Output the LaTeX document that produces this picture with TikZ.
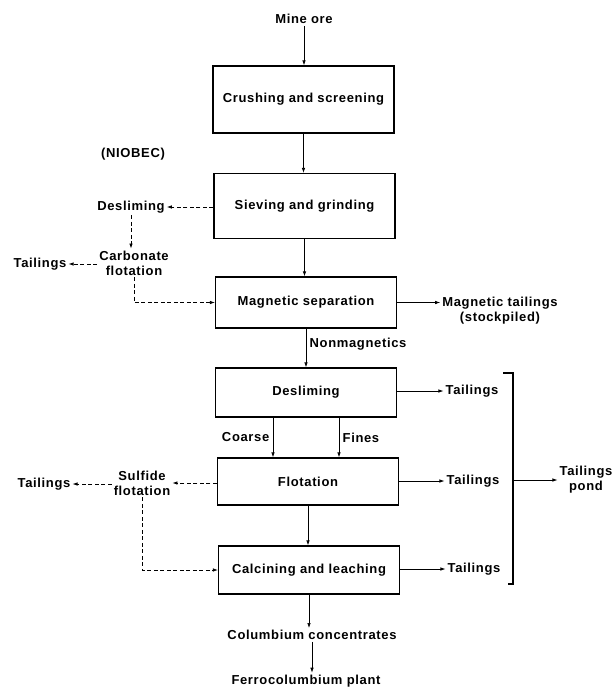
\documentclass[tikz,border=0pt]{standalone}
\usepackage{fontspec}
\setmainfont{Liberation Sans}[LetterSpace=5]
\usetikzlibrary{arrows.meta}
\begin{document}
\begin{tikzpicture}[x=1pt,y=-1pt,font=\bfseries\fontsize{13}{15}\selectfont]
\tikzstyle{process}=[rectangle,draw,line width=1.2pt,minimum width=181pt,inner sep=0pt]
\tikzstyle{stream}=[inner sep=2pt,align=center]
\tikzstyle{flow}=[-{Latex[length=5pt,width=3.5pt]},line width=0.7pt]
\tikzstyle{side}=[flow,dash pattern=on 4pt off 2.5pt]

\useasboundingbox (0,0) rectangle (616,689);

\node[stream](Mine) at (304,19){Mine ore};
\node[process,minimum height=67pt](Crushing) at (303.5,99.5){Crushing and screening};
\node[stream](Niobec) at (133,154){(NIOBEC)};
\node[process,minimum height=65pt](Sieving) at (304.5,206){Sieving and grinding};
\node[stream](Desl) at (131,207){Desliming};
\node[stream](Carbonate) at (134,263){Carbonate\\flotation};
\node[stream](TailA) at (40,264){Tailings};
\node[process,minimum height=51pt](Magnetic) at (306,302.5){Magnetic separation};
\node[stream](MagTail) at (500,311){Magnetic tailings\\(stockpiled)};
\node[process,minimum height=49pt](Desliming) at (306,392.5){Desliming};
\node[stream](TailD) at (472,391){Tailings};
\node[process,minimum height=47pt](Flotation) at (308,481.5){Flotation};
\node[stream](Sulfide) at (142,483){Sulfide\\flotation};
\node[stream](TailB) at (44,484){Tailings};
\node[stream](TailF) at (473,481){Tailings};
\node[process,minimum height=48pt](Calcining) at (309,570){Calcining and leaching};
\node[stream](TailC) at (474,569){Tailings};
\node[stream](Pond) at (586,480){Tailings\\pond};
\node[stream](Columbium) at (312,635){Columbium concentrates};
\node[stream](Ferro) at (306,681){Ferrocolumbium plant};
\coordinate (BrTop) at (513,373);
\coordinate (BrBot) at (513,584);

\draw[flow] (Mine) -- (Mine.south |- Crushing.north);
\draw[flow] (Crushing) -- (Crushing.south |- Sieving.north);
\draw[side] (Sieving.west |- Desl) -- (Desl);
\draw[side] (Desl) -- (Desl.south |- Carbonate.north);
\draw[side] (Carbonate.west |- TailA) -- (TailA);
\draw[side] (Carbonate) |- (Magnetic.west);
\draw[flow] (Sieving) -- (Sieving.south |- Magnetic.north);
\draw[flow] (Magnetic.east) -- (Magnetic.east -| MagTail.west);
\draw[flow] (Magnetic) -- (Magnetic.south |- Desliming.north) node[pos=0.4,right]{Nonmagnetics};
\draw[flow] (Desliming.east |- TailD) -- (TailD);
\draw[flow] ([xshift=-33pt]Desliming.south) -- ([xshift=-33pt]Desliming.south |- Flotation.north) node[midway,left]{Coarse};
\draw[flow] ([xshift=33pt]Desliming.south) -- ([xshift=33pt]Desliming.south |- Flotation.north) node[midway,right]{Fines};
\draw[side] (Flotation.west |- Sulfide) -- (Sulfide);
\draw[side] (Sulfide.west |- TailB) -- (TailB);
\draw[side] (Sulfide) |- (Calcining.west);
\draw[flow] (Flotation) -- (Flotation.south |- Calcining.north);
\draw[flow] (Flotation.east |- TailF) -- (TailF);
\draw[flow] (Calcining.east |- TailC) -- (TailC);
\draw[line width=1.2pt] ([xshift=-10pt]BrTop) -- (BrTop) -- (BrBot) -- ([xshift=-5pt]BrBot);
\draw[flow] (BrTop |- Pond) -- (Pond);
\draw[flow] (Calcining) -- (Calcining.south |- Columbium.north);
\draw[flow] (Columbium) -- (Columbium.south |- Ferro.north);

\end{tikzpicture}
\end{document}
